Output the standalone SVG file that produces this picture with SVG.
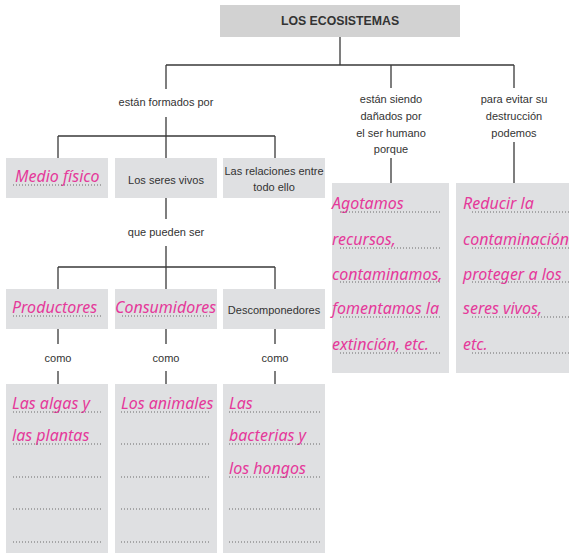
<svg xmlns="http://www.w3.org/2000/svg" width="569" height="553" viewBox="0 0 569 553">
<style>
.box{fill:#dfe0e2}
.title{fill:#d2d2d2}
.ln{stroke:#3a3a3a;stroke-width:1.3;fill:none}
.dot{stroke:#6a6a6a;stroke-width:1;stroke-dasharray:1 2;fill:none}
.lbl{font-family:"Liberation Sans",Arial,sans-serif;font-size:11px;fill:#333;text-anchor:middle}
.tt{font-family:"Liberation Sans",Arial,sans-serif;font-size:12.3px;font-weight:bold;fill:#333;text-anchor:middle}
.pk{font-family:"Noto Sans","DejaVu Sans",sans-serif;font-style:italic;font-size:16px;fill:#e5399a}
</style>
<rect width="569" height="553" fill="#ffffff"/>

<g id="connectors">
<path class="ln" d="M340 37V65M166 65H514M166 65V89M391 65V88M514 65V88"/>
<path class="ln" d="M166 117V136M58 136H275M58 136V158M166 136V158M275 136V158"/>
<path class="ln" d="M166 198V219M166 246V267M58 267H275M58 267V289M166 267V289M275 267V289"/>
<path class="ln" d="M58 329V344M166 329V344M275 329V344M58 371V384M166 371V384M275 371V384"/>
<path class="ln" d="M391 158V183M514 142V183"/>
</g>

<g id="title"><rect class="title" x="220" y="5" width="240" height="32"/><text class="tt" x="340" y="25">LOS ECOSISTEMAS</text></g>

<g id="lbl-formados"><text class="lbl" x="166" y="106">están formados por</text></g>
<g id="lbl-danados"><text class="lbl" x="391" y="103">están siendo</text><text class="lbl" x="391" y="120">dañados por</text><text class="lbl" x="391" y="137">el ser humano</text><text class="lbl" x="391" y="153">porque</text></g>
<g id="lbl-evitar"><text class="lbl" x="514" y="103">para evitar su</text><text class="lbl" x="514" y="120">destrucción</text><text class="lbl" x="514" y="137">podemos</text></g>
<g id="lbl-pueden"><text class="lbl" x="166" y="236">que pueden ser</text></g>
<g id="lbl-como"><text class="lbl" x="58" y="362">como</text><text class="lbl" x="166" y="362">como</text><text class="lbl" x="275" y="362">como</text></g>

<g id="medio"><rect class="box" x="6" y="158" width="102" height="40"/><text class="pk" x="15" y="182">Medio físico</text><path class="dot" d="M13 185H103"/></g>
<g id="seres"><rect class="box" x="115" y="158" width="102" height="40"/><text class="lbl" x="166" y="184">Los seres vivos</text></g>
<g id="relaciones"><rect class="box" x="223" y="158" width="102" height="40"/><text class="lbl" x="274" y="175">Las relaciones entre</text><text class="lbl" x="274" y="191">todo ello</text></g>

<g id="productores"><rect class="box" x="6" y="289" width="102" height="40"/><text class="pk" x="12" y="313">Productores</text><path class="dot" d="M13 316H103"/></g>
<g id="consumidores"><rect class="box" x="115" y="289" width="102" height="40"/><text class="pk" x="115" y="313">Consumidores</text><path class="dot" d="M122 316H210"/></g>
<g id="descomponedores"><rect class="box" x="223" y="289" width="102" height="40"/><text class="lbl" x="274" y="314">Descomponedores</text></g>

<g id="algas"><rect class="box" x="6" y="384" width="102" height="169"/><text class="pk" x="12" y="409">Las algas y</text><text class="pk" x="12" y="441">las plantas</text><path class="dot" d="M13 412H103M13 444H103M13 477H103M13 509H103M13 542H103"/></g>
<g id="animales"><rect class="box" x="115" y="384" width="102" height="169"/><text class="pk" x="121" y="409">Los animales</text><path class="dot" d="M121 412H211M121 444H211M121 477H211M121 509H211M121 542H211"/></g>
<g id="bacterias"><rect class="box" x="223" y="384" width="102" height="169"/><text class="pk" x="229" y="409">Las</text><text class="pk" x="229" y="441">bacterias y</text><text class="pk" x="229" y="474">los hongos</text><path class="dot" d="M229 412H320M229 444H320M229 477H320M229 509H320M229 542H320"/></g>

<g id="agotamos"><rect class="box" x="332" y="183" width="117" height="190"/><text class="pk" x="332" y="209">Agotamos</text><text class="pk" x="332" y="245">recursos,</text><text class="pk" x="332" y="280">contaminamos,</text><text class="pk" x="332" y="314">fomentamos la</text><text class="pk" x="332" y="350">extinción, etc.</text><path class="dot" d="M340 212H442M340 248H442M340 282H442M340 317H442M340 353H442"/></g>
<g id="reducir"><rect class="box" x="456" y="183" width="113" height="190"/><text class="pk" x="463" y="209">Reducir la</text><text class="pk" x="463" y="245">contaminación</text><text class="pk" x="463" y="280">proteger a los</text><text class="pk" x="463" y="314">seres vivos,</text><text class="pk" x="463" y="350">etc.</text><path class="dot" d="M472 212H569M472 248H569M472 282H569M472 317H569M472 353H569"/></g>
</svg>
